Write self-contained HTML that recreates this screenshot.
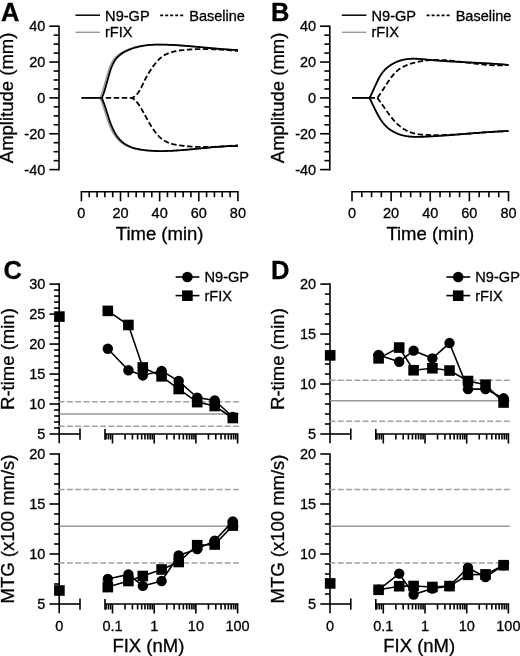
<!DOCTYPE html>
<html><head><meta charset="utf-8"><style>
html,body{margin:0;padding:0;background:#fff;}
body{width:520px;height:656px;overflow:hidden;}
svg{display:block;will-change:transform;}
text{font-family:"Liberation Sans", sans-serif;stroke:#000;stroke-width:0.3px;}
</style></head><body>
<svg width="520" height="656" viewBox="0 0 520 656">
<rect width="520" height="656" fill="#fff"/>
<g fill="#000" font-family='"Liberation Sans", sans-serif'>
<text x="1" y="20.9" font-size="25.5" text-anchor="start" font-weight="bold" >A</text>
<line x1="59" y1="25.4" x2="59" y2="170.4" stroke="#000" stroke-width="1.6" />
<line x1="49.3" y1="169.6" x2="59" y2="169.6" stroke="#000" stroke-width="1.6" />
<text x="45.3" y="174.6" font-size="14.5" text-anchor="end" font-weight="normal" >-40</text>
<line x1="53.6" y1="160.64" x2="59" y2="160.64" stroke="#000" stroke-width="1.6" />
<line x1="53.6" y1="151.68" x2="59" y2="151.68" stroke="#000" stroke-width="1.6" />
<line x1="53.6" y1="142.71" x2="59" y2="142.71" stroke="#000" stroke-width="1.6" />
<line x1="49.3" y1="133.75" x2="59" y2="133.75" stroke="#000" stroke-width="1.6" />
<text x="45.3" y="138.75" font-size="14.5" text-anchor="end" font-weight="normal" >-20</text>
<line x1="53.6" y1="124.79" x2="59" y2="124.79" stroke="#000" stroke-width="1.6" />
<line x1="53.6" y1="115.83" x2="59" y2="115.83" stroke="#000" stroke-width="1.6" />
<line x1="53.6" y1="106.86" x2="59" y2="106.86" stroke="#000" stroke-width="1.6" />
<line x1="49.3" y1="97.9" x2="59" y2="97.9" stroke="#000" stroke-width="1.6" />
<text x="45.3" y="102.9" font-size="14.5" text-anchor="end" font-weight="normal" >0</text>
<line x1="53.6" y1="88.94" x2="59" y2="88.94" stroke="#000" stroke-width="1.6" />
<line x1="53.6" y1="79.98" x2="59" y2="79.98" stroke="#000" stroke-width="1.6" />
<line x1="53.6" y1="71.01" x2="59" y2="71.01" stroke="#000" stroke-width="1.6" />
<line x1="49.3" y1="62.05" x2="59" y2="62.05" stroke="#000" stroke-width="1.6" />
<text x="45.3" y="67.05" font-size="14.5" text-anchor="end" font-weight="normal" >20</text>
<line x1="53.6" y1="53.09" x2="59" y2="53.09" stroke="#000" stroke-width="1.6" />
<line x1="53.6" y1="44.13" x2="59" y2="44.13" stroke="#000" stroke-width="1.6" />
<line x1="53.6" y1="35.16" x2="59" y2="35.16" stroke="#000" stroke-width="1.6" />
<line x1="49.3" y1="26.2" x2="59" y2="26.2" stroke="#000" stroke-width="1.6" />
<text x="45.3" y="31.2" font-size="14.5" text-anchor="end" font-weight="normal" >40</text>
<text transform="translate(13.4,97.9) rotate(-90)" font-size="18.5" text-anchor="middle">Amplitude (mm)</text>
<line x1="80.6" y1="191.8" x2="238.7" y2="191.8" stroke="#000" stroke-width="1.6" />
<line x1="81.4" y1="191.8" x2="81.4" y2="201.3" stroke="#000" stroke-width="1.6" />
<text x="81.4" y="218.3" font-size="14.5" text-anchor="middle" font-weight="normal" >0</text>
<line x1="89.23" y1="191.8" x2="89.23" y2="197.2" stroke="#000" stroke-width="1.6" />
<line x1="97.05" y1="191.8" x2="97.05" y2="197.2" stroke="#000" stroke-width="1.6" />
<line x1="104.88" y1="191.8" x2="104.88" y2="197.2" stroke="#000" stroke-width="1.6" />
<line x1="112.7" y1="191.8" x2="112.7" y2="197.2" stroke="#000" stroke-width="1.6" />
<line x1="120.53" y1="191.8" x2="120.53" y2="201.3" stroke="#000" stroke-width="1.6" />
<text x="120.53" y="218.3" font-size="14.5" text-anchor="middle" font-weight="normal" >20</text>
<line x1="128.35" y1="191.8" x2="128.35" y2="197.2" stroke="#000" stroke-width="1.6" />
<line x1="136.18" y1="191.8" x2="136.18" y2="197.2" stroke="#000" stroke-width="1.6" />
<line x1="144" y1="191.8" x2="144" y2="197.2" stroke="#000" stroke-width="1.6" />
<line x1="151.82" y1="191.8" x2="151.82" y2="197.2" stroke="#000" stroke-width="1.6" />
<line x1="159.65" y1="191.8" x2="159.65" y2="201.3" stroke="#000" stroke-width="1.6" />
<text x="159.65" y="218.3" font-size="14.5" text-anchor="middle" font-weight="normal" >40</text>
<line x1="167.48" y1="191.8" x2="167.48" y2="197.2" stroke="#000" stroke-width="1.6" />
<line x1="175.3" y1="191.8" x2="175.3" y2="197.2" stroke="#000" stroke-width="1.6" />
<line x1="183.12" y1="191.8" x2="183.12" y2="197.2" stroke="#000" stroke-width="1.6" />
<line x1="190.95" y1="191.8" x2="190.95" y2="197.2" stroke="#000" stroke-width="1.6" />
<line x1="198.78" y1="191.8" x2="198.78" y2="201.3" stroke="#000" stroke-width="1.6" />
<text x="198.78" y="218.3" font-size="14.5" text-anchor="middle" font-weight="normal" >60</text>
<line x1="206.6" y1="191.8" x2="206.6" y2="197.2" stroke="#000" stroke-width="1.6" />
<line x1="214.43" y1="191.8" x2="214.43" y2="197.2" stroke="#000" stroke-width="1.6" />
<line x1="222.25" y1="191.8" x2="222.25" y2="197.2" stroke="#000" stroke-width="1.6" />
<line x1="230.08" y1="191.8" x2="230.08" y2="197.2" stroke="#000" stroke-width="1.6" />
<line x1="237.9" y1="191.8" x2="237.9" y2="201.3" stroke="#000" stroke-width="1.6" />
<text x="237.9" y="218.3" font-size="14.5" text-anchor="middle" font-weight="normal" >80</text>
<text x="159.65" y="239.8" font-size="18.5" text-anchor="middle" font-weight="normal" >Time (min)</text>
<line x1="75.4" y1="15.2" x2="100" y2="15.2" stroke="#000" stroke-width="1.5" />
<text x="105.1" y="20.9" font-size="14.6" text-anchor="start" font-weight="normal" >N9-GP</text>
<line x1="75.4" y1="32.3" x2="100" y2="32.3" stroke="#999" stroke-width="1.4" />
<text x="105" y="37.4" font-size="14.6" text-anchor="start" font-weight="normal" >rFIX</text>
<line x1="160.2" y1="15.4" x2="183.3" y2="15.4" stroke="#000" stroke-width="1.6" stroke-dasharray="3 2"/>
<text x="189.3" y="21.1" font-size="14.5" text-anchor="start" font-weight="normal" >Baseline</text>
<path d="M81.4,97.9 L99.9,97.9 L99.97,97.78 L100.09,97.55 L100.25,97.24 L100.44,96.86 L100.66,96.39 L100.9,95.84 L101.16,95.21 L101.44,94.49 L101.73,93.69 L102.05,92.79 L102.38,91.8 L102.72,90.73 L103.08,89.56 L103.46,88.31 L103.85,86.98 L104.25,85.57 L104.66,84.09 L105.09,82.55 L105.53,80.95 L105.98,79.32 L106.44,77.65 L106.91,75.97 L107.39,74.29 L107.89,72.63 L108.39,71 L108.91,69.43 L109.43,67.95 L109.97,66.55 L110.51,65.24 L111.06,64.02 L111.63,62.89 L112.2,61.85 L112.78,60.88 L113.37,59.99 L113.97,59.17 L114.57,58.42 L115.19,57.73 L115.81,57.08 L116.45,56.47 L117.09,55.9 L117.73,55.35 L118.39,54.82 L119.06,54.31 L119.73,53.82 L120.41,53.35 L121.09,52.9 L121.79,52.47 L122.49,52.06 L123.2,51.67 L123.92,51.3 L124.64,50.94 L125.37,50.59 L126.11,50.26 L126.86,49.94 L127.61,49.63 L128.37,49.33 L129.13,49.04 L129.91,48.76 L130.69,48.49 L131.47,48.23 L132.27,47.97 L133.06,47.73 L133.87,47.49 L134.68,47.27 L135.5,47.05 L136.32,46.84 L137.16,46.65 L137.99,46.46 L138.84,46.28 L139.69,46.11 L140.54,45.95 L141.4,45.8 L142.27,45.66 L143.14,45.53 L144.02,45.41 L144.91,45.3 L145.8,45.2 L146.7,45.1 L147.6,45.01 L148.51,44.94 L149.42,44.87 L150.34,44.81 L151.27,44.75 L152.2,44.71 L153.14,44.67 L154.08,44.64 L155.03,44.62 L155.98,44.6 L156.94,44.59 L157.9,44.59 L158.87,44.59 L159.85,44.6 L160.83,44.61 L161.81,44.63 L162.8,44.65 L163.8,44.68 L164.8,44.71 L165.81,44.74 L166.82,44.78 L167.83,44.82 L168.89,44.87 L169.98,44.92 L171.08,44.97 L172.17,45.02 L173.28,45.08 L174.39,45.14 L175.5,45.2 L176.62,45.27 L177.75,45.34 L178.88,45.41 L180.01,45.49 L181.15,45.57 L182.3,45.65 L183.45,45.73 L184.61,45.82 L185.77,45.9 L186.93,46 L188.1,46.09 L189.28,46.18 L190.46,46.28 L191.65,46.38 L192.84,46.48 L194.03,46.58 L195.23,46.68 L196.44,46.79 L197.65,46.89 L198.86,47 L200.08,47.1 L201.23,47.21 L202.39,47.32 L203.56,47.43 L204.72,47.54 L205.9,47.65 L207.08,47.76 L208.26,47.87 L209.44,47.98 L210.63,48.09 L211.83,48.2 L213.03,48.31 L214.23,48.42 L215.44,48.52 L216.65,48.63 L217.87,48.73 L219.09,48.83 L220.31,48.93 L221.54,49.03 L222.78,49.13 L224.01,49.22 L225.26,49.31 L226.5,49.4 L227.75,49.49 L229.01,49.57 L230.26,49.65 L231.53,49.72 L232.79,49.79 L234.06,49.86 L235.34,49.92 L236.62,49.98 L237.9,50.03" fill="none" stroke="#999" stroke-width="1.5"/>
<path d="M99.9,97.9 L99.97,98.04 L100.09,98.31 L100.25,98.66 L100.44,99.09 L100.66,99.59 L100.9,100.16 L101.16,100.8 L101.44,101.5 L101.73,102.28 L102.05,103.12 L102.38,104.03 L102.72,105 L103.08,106.04 L103.46,107.15 L103.85,108.33 L104.25,109.57 L104.66,110.87 L105.09,112.22 L105.53,113.62 L105.98,115.05 L106.44,116.52 L106.91,117.99 L107.39,119.47 L107.89,120.94 L108.39,122.37 L108.91,123.77 L109.43,125.12 L109.97,126.43 L110.51,127.69 L111.06,128.9 L111.63,130.07 L112.2,131.19 L112.78,132.27 L113.37,133.29 L113.97,134.27 L114.57,135.21 L115.19,136.11 L115.81,136.96 L116.45,137.78 L117.09,138.55 L117.73,139.29 L118.39,139.99 L119.06,140.66 L119.73,141.28 L120.41,141.88 L121.09,142.44 L121.79,142.97 L122.49,143.47 L123.2,143.94 L123.92,144.39 L124.64,144.82 L125.37,145.23 L126.11,145.62 L126.86,145.99 L127.61,146.34 L128.37,146.67 L129.13,146.99 L129.91,147.28 L130.69,147.56 L131.47,147.82 L132.27,148.07 L133.06,148.3 L133.87,148.52 L134.68,148.72 L135.5,148.91 L136.32,149.09 L137.16,149.25 L137.99,149.41 L138.84,149.56 L139.69,149.7 L140.54,149.83 L141.4,149.95 L142.27,150.07 L143.14,150.18 L144.02,150.29 L144.91,150.38 L145.8,150.47 L146.7,150.55 L147.6,150.63 L148.51,150.7 L149.42,150.76 L150.34,150.82 L151.27,150.87 L152.2,150.91 L153.14,150.95 L154.08,150.98 L155.03,151.01 L155.98,151.03 L156.94,151.04 L157.9,151.05 L158.87,151.06 L159.85,151.06 L160.83,151.05 L161.81,151.04 L162.8,151.03 L163.8,151.01 L164.8,150.99 L165.81,150.96 L166.82,150.92 L167.83,150.89 L168.89,150.84 L169.98,150.8 L171.08,150.75 L172.17,150.69 L173.28,150.63 L174.39,150.57 L175.5,150.5 L176.62,150.43 L177.75,150.35 L178.88,150.28 L180.01,150.2 L181.15,150.11 L182.3,150.02 L183.45,149.93 L184.61,149.84 L185.77,149.74 L186.93,149.64 L188.1,149.54 L189.28,149.44 L190.46,149.34 L191.65,149.23 L192.84,149.12 L194.03,149.01 L195.23,148.9 L196.44,148.78 L197.65,148.67 L198.86,148.56 L200.08,148.44 L201.23,148.33 L202.39,148.21 L203.56,148.1 L204.72,147.98 L205.9,147.87 L207.08,147.75 L208.26,147.64 L209.44,147.53 L210.63,147.42 L211.83,147.32 L213.03,147.21 L214.23,147.11 L215.44,147.01 L216.65,146.91 L217.87,146.82 L219.09,146.73 L220.31,146.64 L221.54,146.56 L222.78,146.48 L224.01,146.4 L225.26,146.33 L226.5,146.27 L227.75,146.21 L229.01,146.16 L230.26,146.12 L231.53,146.08 L232.79,146.05 L234.06,146.02 L235.34,146 L236.62,146 L237.9,146" fill="none" stroke="#999" stroke-width="1.5"/>
<path d="M101.7,97.9 L131,97.9 L131.05,97.9 L131.15,97.89 L131.28,97.87 L131.43,97.86 L131.6,97.83 L131.78,97.79 L131.99,97.75 L132.21,97.69 L132.44,97.61 L132.69,97.53 L132.95,97.42 L133.22,97.3 L133.5,97.16 L133.79,96.99 L134.1,96.81 L134.41,96.6 L134.74,96.36 L135.07,96.09 L135.42,95.8 L135.77,95.47 L136.13,95.12 L136.5,94.72 L136.88,94.3 L137.27,93.83 L137.66,93.33 L138.07,92.79 L138.48,92.2 L138.9,91.57 L139.33,90.9 L139.76,90.18 L140.2,89.41 L140.65,88.59 L141.11,87.72 L141.57,86.82 L142.04,85.88 L142.52,84.9 L143,83.9 L143.49,82.88 L143.99,81.85 L144.49,80.81 L145,79.77 L145.51,78.75 L146.03,77.74 L146.56,76.75 L147.1,75.78 L147.63,74.82 L148.18,73.88 L148.73,72.96 L149.29,72.06 L149.85,71.17 L150.42,70.29 L150.99,69.43 L151.57,68.58 L152.16,67.74 L152.75,66.92 L153.34,66.1 L153.95,65.29 L154.55,64.49 L155.16,63.69 L155.78,62.91 L156.4,62.15 L157.03,61.41 L157.66,60.7 L158.3,60.03 L158.94,59.38 L159.59,58.77 L160.24,58.19 L160.9,57.64 L161.56,57.12 L162.23,56.62 L162.9,56.16 L163.57,55.72 L164.26,55.3 L164.94,54.91 L165.63,54.55 L166.33,54.2 L167.03,53.88 L167.73,53.57 L168.44,53.28 L169.15,53.01 L169.87,52.75 L170.59,52.51 L171.32,52.28 L172.05,52.06 L172.78,51.86 L173.52,51.66 L174.27,51.48 L175.02,51.32 L175.77,51.16 L176.52,51.01 L177.29,50.87 L178.05,50.74 L178.82,50.62 L179.59,50.51 L180.37,50.4 L181.15,50.31 L181.94,50.21 L182.73,50.13 L183.52,50.04 L184.32,49.96 L185.12,49.89 L185.93,49.81 L186.74,49.74 L187.55,49.68 L188.37,49.61 L189.19,49.55 L190.01,49.5 L190.84,49.44 L191.68,49.4 L192.51,49.35 L193.35,49.31 L194.2,49.27 L195.05,49.23 L195.9,49.2 L196.75,49.17 L197.61,49.15 L198.48,49.12 L199.34,49.11 L200.22,49.09 L201.09,49.08 L201.97,49.07 L202.85,49.07 L203.73,49.07 L204.62,49.07 L205.52,49.07 L206.41,49.08 L207.31,49.09 L208.21,49.11 L209.12,49.13 L210.03,49.15 L210.94,49.17 L211.86,49.2 L212.78,49.23 L213.71,49.27 L214.63,49.3 L215.56,49.34 L216.5,49.39 L217.44,49.43 L218.38,49.48 L219.32,49.53 L220.27,49.59 L221.22,49.65 L222.18,49.71 L223.14,49.77 L224.1,49.84 L225.06,49.91 L226.03,49.98 L227,50.05 L227.98,50.13 L228.95,50.2 L229.93,50.29 L230.92,50.37 L231.91,50.45 L232.9,50.54 L233.89,50.63 L234.89,50.72 L235.89,50.82 L236.89,50.91 L237.9,51.01" fill="none" stroke="#000" stroke-width="1.8" stroke-dasharray="5.4 2.6" stroke-dashoffset="3.9"/>
<path d="M131,97.9 L131.05,97.9 L131.15,97.92 L131.28,97.94 L131.43,97.97 L131.6,98.01 L131.78,98.06 L131.99,98.12 L132.21,98.2 L132.44,98.3 L132.69,98.41 L132.95,98.54 L133.22,98.7 L133.5,98.88 L133.79,99.08 L134.1,99.3 L134.41,99.56 L134.74,99.83 L135.07,100.14 L135.42,100.48 L135.77,100.84 L136.13,101.24 L136.5,101.66 L136.88,102.12 L137.27,102.61 L137.66,103.12 L138.07,103.67 L138.48,104.25 L138.9,104.86 L139.33,105.51 L139.76,106.18 L140.2,106.88 L140.65,107.61 L141.11,108.37 L141.57,109.15 L142.04,109.96 L142.52,110.8 L143,111.65 L143.49,112.53 L143.99,113.43 L144.49,114.34 L145,115.28 L145.51,116.22 L146.03,117.17 L146.56,118.14 L147.1,119.1 L147.63,120.07 L148.18,121.04 L148.73,122.01 L149.29,122.97 L149.85,123.93 L150.42,124.88 L150.99,125.82 L151.57,126.74 L152.16,127.66 L152.75,128.56 L153.34,129.44 L153.95,130.31 L154.55,131.15 L155.16,131.98 L155.78,132.78 L156.4,133.55 L157.03,134.3 L157.66,135.01 L158.3,135.7 L158.94,136.36 L159.59,136.99 L160.24,137.59 L160.9,138.16 L161.56,138.7 L162.23,139.22 L162.9,139.71 L163.57,140.17 L164.26,140.61 L164.94,141.02 L165.63,141.41 L166.33,141.77 L167.03,142.11 L167.73,142.43 L168.44,142.72 L169.15,143 L169.87,143.25 L170.59,143.49 L171.32,143.71 L172.05,143.91 L172.78,144.1 L173.52,144.27 L174.27,144.44 L175.02,144.59 L175.77,144.73 L176.52,144.86 L177.29,144.99 L178.05,145.11 L178.82,145.23 L179.59,145.34 L180.37,145.45 L181.15,145.56 L181.94,145.66 L182.73,145.76 L183.52,145.85 L184.32,145.94 L185.12,146.03 L185.93,146.11 L186.74,146.19 L187.55,146.27 L188.37,146.34 L189.19,146.41 L190.01,146.47 L190.84,146.53 L191.68,146.59 L192.51,146.64 L193.35,146.69 L194.2,146.74 L195.05,146.78 L195.9,146.82 L196.75,146.85 L197.61,146.88 L198.48,146.91 L199.34,146.93 L200.22,146.95 L201.09,146.97 L201.97,146.98 L202.85,146.99 L203.73,146.99 L204.62,146.99 L205.52,146.99 L206.41,146.99 L207.31,146.98 L208.21,146.97 L209.12,146.95 L210.03,146.93 L210.94,146.91 L211.86,146.89 L212.78,146.86 L213.71,146.83 L214.63,146.79 L215.56,146.76 L216.5,146.72 L217.44,146.68 L218.38,146.63 L219.32,146.59 L220.27,146.54 L221.22,146.48 L222.18,146.43 L223.14,146.37 L224.1,146.31 L225.06,146.25 L226.03,146.19 L227,146.12 L227.98,146.05 L228.95,145.99 L229.93,145.91 L230.92,145.84 L231.91,145.77 L232.9,145.69 L233.89,145.62 L234.89,145.54 L235.89,145.46 L236.89,145.38 L237.9,145.3" fill="none" stroke="#000" stroke-width="1.8" stroke-dasharray="5.4 2.6" stroke-dashoffset="1.2"/>
<path d="M81.4,97.9 L101.7,97.9 L101.77,97.78 L101.89,97.55 L102.05,97.24 L102.24,96.86 L102.46,96.39 L102.7,95.84 L102.96,95.21 L103.24,94.49 L103.53,93.69 L103.85,92.79 L104.18,91.8 L104.52,90.73 L104.88,89.56 L105.26,88.31 L105.65,86.98 L106.05,85.57 L106.46,84.09 L106.89,82.55 L107.33,80.95 L107.78,79.32 L108.24,77.65 L108.71,75.97 L109.19,74.29 L109.69,72.63 L110.19,71 L110.71,69.43 L111.23,67.95 L111.77,66.55 L112.31,65.24 L112.86,64.02 L113.43,62.89 L114,61.85 L114.58,60.88 L115.17,59.99 L115.77,59.17 L116.37,58.42 L116.99,57.73 L117.61,57.08 L118.25,56.47 L118.89,55.9 L119.53,55.35 L120.19,54.82 L120.86,54.31 L121.53,53.82 L122.21,53.35 L122.89,52.9 L123.59,52.47 L124.29,52.06 L125,51.67 L125.72,51.3 L126.44,50.94 L127.17,50.59 L127.91,50.26 L128.66,49.94 L129.41,49.63 L130.17,49.33 L130.93,49.04 L131.71,48.76 L132.49,48.49 L133.27,48.23 L134.07,47.97 L134.86,47.73 L135.67,47.49 L136.48,47.27 L137.3,47.05 L138.12,46.84 L138.96,46.65 L139.79,46.46 L140.64,46.28 L141.49,46.11 L142.34,45.95 L143.2,45.8 L144.07,45.66 L144.94,45.53 L145.82,45.41 L146.71,45.3 L147.6,45.2 L148.5,45.1 L149.4,45.01 L150.31,44.94 L151.22,44.87 L152.14,44.81 L153.07,44.75 L154,44.71 L154.94,44.67 L155.88,44.64 L156.83,44.62 L157.78,44.6 L158.74,44.59 L159.7,44.59 L160.67,44.59 L161.65,44.6 L162.63,44.61 L163.61,44.63 L164.6,44.65 L165.6,44.68 L166.6,44.71 L167.61,44.74 L168.62,44.78 L169.63,44.82 L170.65,44.87 L171.68,44.92 L172.71,44.97 L173.75,45.02 L174.79,45.08 L175.84,45.14 L176.89,45.2 L177.95,45.27 L179.01,45.34 L180.07,45.41 L181.14,45.49 L182.22,45.57 L183.3,45.65 L184.39,45.73 L185.48,45.82 L186.57,45.9 L187.67,46 L188.78,46.09 L189.89,46.18 L191,46.28 L192.12,46.38 L193.24,46.48 L194.37,46.58 L195.5,46.68 L196.64,46.79 L197.78,46.89 L198.93,47 L200.08,47.1 L201.23,47.21 L202.39,47.32 L203.56,47.43 L204.72,47.54 L205.9,47.65 L207.08,47.76 L208.26,47.87 L209.44,47.98 L210.63,48.09 L211.83,48.2 L213.03,48.31 L214.23,48.42 L215.44,48.52 L216.65,48.63 L217.87,48.73 L219.09,48.83 L220.31,48.93 L221.54,49.03 L222.78,49.13 L224.01,49.22 L225.26,49.31 L226.5,49.4 L227.75,49.49 L229.01,49.57 L230.26,49.65 L231.53,49.72 L232.79,49.79 L234.06,49.86 L235.34,49.92 L236.62,49.98 L237.9,50.03" fill="none" stroke="#000" stroke-width="1.8"/>
<path d="M101.7,97.9 L101.77,98.04 L101.89,98.31 L102.05,98.66 L102.24,99.09 L102.46,99.59 L102.7,100.16 L102.96,100.8 L103.24,101.5 L103.53,102.28 L103.85,103.12 L104.18,104.03 L104.52,105 L104.88,106.04 L105.26,107.15 L105.65,108.33 L106.05,109.57 L106.46,110.87 L106.89,112.22 L107.33,113.62 L107.78,115.05 L108.24,116.52 L108.71,117.99 L109.19,119.47 L109.69,120.94 L110.19,122.37 L110.71,123.77 L111.23,125.12 L111.77,126.43 L112.31,127.69 L112.86,128.9 L113.43,130.07 L114,131.19 L114.58,132.27 L115.17,133.29 L115.77,134.27 L116.37,135.21 L116.99,136.11 L117.61,136.96 L118.25,137.78 L118.89,138.55 L119.53,139.29 L120.19,139.99 L120.86,140.66 L121.53,141.28 L122.21,141.88 L122.89,142.44 L123.59,142.97 L124.29,143.47 L125,143.94 L125.72,144.39 L126.44,144.82 L127.17,145.23 L127.91,145.62 L128.66,145.99 L129.41,146.34 L130.17,146.67 L130.93,146.99 L131.71,147.28 L132.49,147.56 L133.27,147.82 L134.07,148.07 L134.86,148.3 L135.67,148.52 L136.48,148.72 L137.3,148.91 L138.12,149.09 L138.96,149.25 L139.79,149.41 L140.64,149.56 L141.49,149.7 L142.34,149.83 L143.2,149.95 L144.07,150.07 L144.94,150.18 L145.82,150.29 L146.71,150.38 L147.6,150.47 L148.5,150.55 L149.4,150.63 L150.31,150.7 L151.22,150.76 L152.14,150.82 L153.07,150.87 L154,150.91 L154.94,150.95 L155.88,150.98 L156.83,151.01 L157.78,151.03 L158.74,151.04 L159.7,151.05 L160.67,151.06 L161.65,151.06 L162.63,151.05 L163.61,151.04 L164.6,151.03 L165.6,151.01 L166.6,150.99 L167.61,150.96 L168.62,150.92 L169.63,150.89 L170.65,150.84 L171.68,150.8 L172.71,150.75 L173.75,150.69 L174.79,150.63 L175.84,150.57 L176.89,150.5 L177.95,150.43 L179.01,150.35 L180.07,150.28 L181.14,150.2 L182.22,150.11 L183.3,150.02 L184.39,149.93 L185.48,149.84 L186.57,149.74 L187.67,149.64 L188.78,149.54 L189.89,149.44 L191,149.34 L192.12,149.23 L193.24,149.12 L194.37,149.01 L195.5,148.9 L196.64,148.78 L197.78,148.67 L198.93,148.56 L200.08,148.44 L201.23,148.33 L202.39,148.21 L203.56,148.1 L204.72,147.98 L205.9,147.87 L207.08,147.75 L208.26,147.64 L209.44,147.53 L210.63,147.42 L211.83,147.32 L213.03,147.21 L214.23,147.11 L215.44,147.01 L216.65,146.91 L217.87,146.82 L219.09,146.73 L220.31,146.64 L221.54,146.56 L222.78,146.48 L224.01,146.4 L225.26,146.33 L226.5,146.27 L227.75,146.21 L229.01,146.16 L230.26,146.12 L231.53,146.08 L232.79,146.05 L234.06,146.02 L235.34,146 L236.62,146 L237.9,146" fill="none" stroke="#000" stroke-width="1.8"/>
<text x="270.9" y="20.9" font-size="25.5" text-anchor="start" font-weight="bold" >B</text>
<line x1="329.8" y1="25.4" x2="329.8" y2="170.4" stroke="#000" stroke-width="1.6" />
<line x1="320.1" y1="169.6" x2="329.8" y2="169.6" stroke="#000" stroke-width="1.6" />
<text x="316.1" y="174.6" font-size="14.5" text-anchor="end" font-weight="normal" >-40</text>
<line x1="324.4" y1="160.64" x2="329.8" y2="160.64" stroke="#000" stroke-width="1.6" />
<line x1="324.4" y1="151.68" x2="329.8" y2="151.68" stroke="#000" stroke-width="1.6" />
<line x1="324.4" y1="142.71" x2="329.8" y2="142.71" stroke="#000" stroke-width="1.6" />
<line x1="320.1" y1="133.75" x2="329.8" y2="133.75" stroke="#000" stroke-width="1.6" />
<text x="316.1" y="138.75" font-size="14.5" text-anchor="end" font-weight="normal" >-20</text>
<line x1="324.4" y1="124.79" x2="329.8" y2="124.79" stroke="#000" stroke-width="1.6" />
<line x1="324.4" y1="115.83" x2="329.8" y2="115.83" stroke="#000" stroke-width="1.6" />
<line x1="324.4" y1="106.86" x2="329.8" y2="106.86" stroke="#000" stroke-width="1.6" />
<line x1="320.1" y1="97.9" x2="329.8" y2="97.9" stroke="#000" stroke-width="1.6" />
<text x="316.1" y="102.9" font-size="14.5" text-anchor="end" font-weight="normal" >0</text>
<line x1="324.4" y1="88.94" x2="329.8" y2="88.94" stroke="#000" stroke-width="1.6" />
<line x1="324.4" y1="79.98" x2="329.8" y2="79.98" stroke="#000" stroke-width="1.6" />
<line x1="324.4" y1="71.01" x2="329.8" y2="71.01" stroke="#000" stroke-width="1.6" />
<line x1="320.1" y1="62.05" x2="329.8" y2="62.05" stroke="#000" stroke-width="1.6" />
<text x="316.1" y="67.05" font-size="14.5" text-anchor="end" font-weight="normal" >20</text>
<line x1="324.4" y1="53.09" x2="329.8" y2="53.09" stroke="#000" stroke-width="1.6" />
<line x1="324.4" y1="44.13" x2="329.8" y2="44.13" stroke="#000" stroke-width="1.6" />
<line x1="324.4" y1="35.16" x2="329.8" y2="35.16" stroke="#000" stroke-width="1.6" />
<line x1="320.1" y1="26.2" x2="329.8" y2="26.2" stroke="#000" stroke-width="1.6" />
<text x="316.1" y="31.2" font-size="14.5" text-anchor="end" font-weight="normal" >40</text>
<text transform="translate(284.2,97.9) rotate(-90)" font-size="18.5" text-anchor="middle">Amplitude (mm)</text>
<line x1="351.2" y1="191.8" x2="509.3" y2="191.8" stroke="#000" stroke-width="1.6" />
<line x1="352" y1="191.8" x2="352" y2="201.3" stroke="#000" stroke-width="1.6" />
<text x="352" y="218.3" font-size="14.5" text-anchor="middle" font-weight="normal" >0</text>
<line x1="361.78" y1="191.8" x2="361.78" y2="197.2" stroke="#000" stroke-width="1.6" />
<line x1="371.56" y1="191.8" x2="371.56" y2="197.2" stroke="#000" stroke-width="1.6" />
<line x1="381.34" y1="191.8" x2="381.34" y2="197.2" stroke="#000" stroke-width="1.6" />
<line x1="391.12" y1="191.8" x2="391.12" y2="201.3" stroke="#000" stroke-width="1.6" />
<text x="391.12" y="218.3" font-size="14.5" text-anchor="middle" font-weight="normal" >20</text>
<line x1="400.91" y1="191.8" x2="400.91" y2="197.2" stroke="#000" stroke-width="1.6" />
<line x1="410.69" y1="191.8" x2="410.69" y2="197.2" stroke="#000" stroke-width="1.6" />
<line x1="420.47" y1="191.8" x2="420.47" y2="197.2" stroke="#000" stroke-width="1.6" />
<line x1="430.25" y1="191.8" x2="430.25" y2="201.3" stroke="#000" stroke-width="1.6" />
<text x="430.25" y="218.3" font-size="14.5" text-anchor="middle" font-weight="normal" >40</text>
<line x1="440.03" y1="191.8" x2="440.03" y2="197.2" stroke="#000" stroke-width="1.6" />
<line x1="449.81" y1="191.8" x2="449.81" y2="197.2" stroke="#000" stroke-width="1.6" />
<line x1="459.59" y1="191.8" x2="459.59" y2="197.2" stroke="#000" stroke-width="1.6" />
<line x1="469.38" y1="191.8" x2="469.38" y2="201.3" stroke="#000" stroke-width="1.6" />
<text x="469.38" y="218.3" font-size="14.5" text-anchor="middle" font-weight="normal" >60</text>
<line x1="479.16" y1="191.8" x2="479.16" y2="197.2" stroke="#000" stroke-width="1.6" />
<line x1="488.94" y1="191.8" x2="488.94" y2="197.2" stroke="#000" stroke-width="1.6" />
<line x1="498.72" y1="191.8" x2="498.72" y2="197.2" stroke="#000" stroke-width="1.6" />
<line x1="508.5" y1="191.8" x2="508.5" y2="201.3" stroke="#000" stroke-width="1.6" />
<text x="508.5" y="218.3" font-size="14.5" text-anchor="middle" font-weight="normal" >80</text>
<text x="430.25" y="239.8" font-size="18.5" text-anchor="middle" font-weight="normal" >Time (min)</text>
<line x1="341.8" y1="15.2" x2="366.4" y2="15.2" stroke="#000" stroke-width="1.5" />
<text x="371.5" y="20.9" font-size="14.6" text-anchor="start" font-weight="normal" >N9-GP</text>
<line x1="341.8" y1="32.3" x2="366.4" y2="32.3" stroke="#999" stroke-width="1.4" />
<text x="371.4" y="37.4" font-size="14.6" text-anchor="start" font-weight="normal" >rFIX</text>
<line x1="426.6" y1="15.4" x2="449.7" y2="15.4" stroke="#000" stroke-width="1.6" stroke-dasharray="3 2"/>
<text x="455.7" y="21.1" font-size="14.5" text-anchor="start" font-weight="normal" >Baseline</text>
<path d="M352,97.9 L369.6,97.9 L369.67,97.76 L369.8,97.51 L369.96,97.19 L370.15,96.8 L370.37,96.35 L370.62,95.85 L370.88,95.3 L371.17,94.7 L371.47,94.06 L371.79,93.37 L372.13,92.64 L372.48,91.87 L372.85,91.07 L373.23,90.22 L373.62,89.35 L374.03,88.44 L374.46,87.5 L374.89,86.54 L375.34,85.56 L375.8,84.56 L376.27,83.55 L376.75,82.53 L377.24,81.5 L377.75,80.48 L378.26,79.46 L378.78,78.46 L379.32,77.48 L379.86,76.53 L380.42,75.61 L380.98,74.72 L381.56,73.87 L382.14,73.05 L382.73,72.27 L383.33,71.52 L383.95,70.8 L384.56,70.12 L385.19,69.47 L385.83,68.85 L386.47,68.26 L387.13,67.69 L387.79,67.15 L388.46,66.63 L389.13,66.14 L389.82,65.65 L390.51,65.19 L391.21,64.73 L391.92,64.3 L392.64,63.88 L393.36,63.47 L394.09,63.08 L394.83,62.71 L395.58,62.36 L396.33,62.02 L397.09,61.69 L397.86,61.39 L398.63,61.1 L399.41,60.83 L400.2,60.58 L401,60.34 L401.8,60.12 L402.61,59.92 L403.42,59.73 L404.24,59.56 L405.07,59.41 L405.91,59.27 L406.75,59.15 L407.59,59.05 L408.45,58.96 L409.31,58.88 L410.17,58.82 L411.05,58.77 L411.93,58.74 L412.81,58.72 L413.7,58.71 L414.6,58.72 L415.5,58.74 L416.41,58.76 L417.33,58.8 L418.25,58.85 L419.17,58.91 L420.1,58.97 L421.04,59.04 L421.99,59.12 L422.94,59.21 L423.89,59.29 L424.85,59.39 L425.82,59.48 L426.79,59.58 L427.77,59.68 L428.75,59.78 L429.74,59.87 L430.73,59.97 L431.73,60.06 L432.74,60.15 L433.75,60.24 L434.76,60.33 L435.79,60.42 L436.81,60.5 L437.84,60.58 L438.88,60.66 L439.92,60.74 L440.97,60.82 L442.02,60.9 L443.08,60.97 L444.14,61.04 L445.21,61.11 L446.28,61.19 L447.36,61.25 L448.44,61.32 L449.53,61.39 L450.62,61.45 L451.72,61.52 L452.82,61.58 L453.93,61.64 L455.04,61.71 L456.16,61.77 L457.28,61.83 L458.4,61.88 L459.53,61.94 L460.67,62 L461.81,62.06 L462.96,62.12 L464.11,62.17 L465.26,62.23 L466.42,62.29 L467.59,62.34 L468.75,62.4 L469.93,62.46 L471.11,62.51 L472.29,62.57 L473.48,62.63 L474.67,62.69 L475.86,62.75 L477.06,62.81 L478.27,62.87 L479.48,62.93 L480.69,62.99 L481.91,63.06 L483.13,63.12 L484.36,63.19 L485.59,63.26 L486.83,63.33 L488.07,63.4 L489.32,63.47 L490.56,63.55 L491.82,63.63 L493.08,63.71 L494.34,63.79 L495.6,63.88 L496.88,63.97 L498.15,64.06 L499.43,64.16 L500.71,64.26 L502,64.36 L503.29,64.46 L504.59,64.57 L505.89,64.69 L507.19,64.81 L508.5,64.93" fill="none" stroke="#999" stroke-width="1.5"/>
<path d="M369.6,97.9 L369.67,98.05 L369.8,98.32 L369.96,98.66 L370.15,99.08 L370.37,99.55 L370.62,100.07 L370.88,100.64 L371.17,101.24 L371.47,101.89 L371.79,102.57 L372.13,103.29 L372.48,104.04 L372.85,104.81 L373.23,105.61 L373.62,106.44 L374.03,107.29 L374.46,108.16 L374.89,109.05 L375.34,109.95 L375.8,110.87 L376.27,111.79 L376.75,112.72 L377.24,113.66 L377.75,114.59 L378.26,115.52 L378.78,116.45 L379.32,117.36 L379.86,118.27 L380.42,119.15 L380.98,120.01 L381.56,120.85 L382.14,121.66 L382.73,122.45 L383.33,123.21 L383.95,123.95 L384.56,124.66 L385.19,125.35 L385.83,126.01 L386.47,126.64 L387.13,127.25 L387.79,127.83 L388.46,128.38 L389.13,128.92 L389.82,129.42 L390.51,129.91 L391.21,130.37 L391.92,130.81 L392.64,131.24 L393.36,131.65 L394.09,132.04 L394.83,132.41 L395.58,132.77 L396.33,133.12 L397.09,133.45 L397.86,133.76 L398.63,134.06 L399.41,134.34 L400.2,134.6 L401,134.85 L401.8,135.08 L402.61,135.3 L403.42,135.5 L404.24,135.69 L405.07,135.86 L405.91,136.02 L406.75,136.16 L407.59,136.28 L408.45,136.4 L409.31,136.5 L410.17,136.58 L411.05,136.66 L411.93,136.72 L412.81,136.77 L413.7,136.81 L414.6,136.84 L415.5,136.86 L416.41,136.87 L417.33,136.87 L418.25,136.86 L419.17,136.85 L420.1,136.83 L421.04,136.8 L421.99,136.77 L422.94,136.74 L423.89,136.7 L424.85,136.67 L425.82,136.63 L426.79,136.58 L427.77,136.54 L428.75,136.49 L429.74,136.44 L430.73,136.39 L431.73,136.34 L432.74,136.28 L433.75,136.22 L434.76,136.16 L435.79,136.1 L436.81,136.04 L437.84,135.97 L438.88,135.91 L439.92,135.84 L440.97,135.77 L442.02,135.7 L443.08,135.62 L444.14,135.55 L445.21,135.47 L446.28,135.39 L447.36,135.31 L448.44,135.23 L449.53,135.15 L450.62,135.06 L451.72,134.98 L452.82,134.89 L453.93,134.8 L455.04,134.71 L456.16,134.62 L457.28,134.53 L458.4,134.44 L459.53,134.35 L460.67,134.25 L461.81,134.16 L462.96,134.07 L464.11,133.97 L465.26,133.88 L466.42,133.78 L467.59,133.69 L468.75,133.59 L469.93,133.49 L471.11,133.4 L472.29,133.3 L473.48,133.21 L474.67,133.11 L475.86,133.02 L477.06,132.92 L478.27,132.83 L479.48,132.74 L480.69,132.64 L481.91,132.55 L483.13,132.46 L484.36,132.38 L485.59,132.29 L486.83,132.2 L488.07,132.12 L489.32,132.03 L490.56,131.95 L491.82,131.87 L493.08,131.8 L494.34,131.72 L495.6,131.65 L496.88,131.58 L498.15,131.51 L499.43,131.45 L500.71,131.39 L502,131.33 L503.29,131.27 L504.59,131.22 L505.89,131.17 L507.19,131.12 L508.5,131.08" fill="none" stroke="#999" stroke-width="1.5"/>
<path d="M369.6,97.9 L377.3,97.9 L377.37,97.82 L377.49,97.66 L377.64,97.46 L377.82,97.22 L378.03,96.94 L378.26,96.63 L378.51,96.29 L378.78,95.92 L379.07,95.52 L379.37,95.09 L379.69,94.64 L380.02,94.15 L380.37,93.65 L380.73,93.12 L381.1,92.56 L381.49,91.98 L381.89,91.38 L382.3,90.75 L382.72,90.1 L383.15,89.43 L383.6,88.74 L384.05,88.04 L384.52,87.31 L384.99,86.57 L385.48,85.82 L385.98,85.05 L386.48,84.27 L387,83.48 L387.52,82.69 L388.05,81.88 L388.59,81.08 L389.15,80.27 L389.71,79.47 L390.27,78.67 L390.85,77.88 L391.43,77.09 L392.03,76.32 L392.63,75.57 L393.24,74.84 L393.85,74.13 L394.48,73.44 L395.11,72.78 L395.75,72.15 L396.4,71.54 L397.05,70.95 L397.72,70.39 L398.39,69.85 L399.06,69.34 L399.75,68.85 L400.44,68.38 L401.13,67.94 L401.84,67.52 L402.55,67.12 L403.27,66.73 L403.99,66.37 L404.72,66.03 L405.46,65.7 L406.21,65.38 L406.96,65.08 L407.71,64.79 L408.48,64.51 L409.25,64.24 L410.02,63.98 L410.8,63.72 L411.59,63.47 L412.39,63.23 L413.19,63 L413.99,62.78 L414.81,62.57 L415.63,62.36 L416.45,62.16 L417.28,61.97 L418.12,61.79 L418.96,61.62 L419.8,61.45 L420.66,61.3 L421.52,61.15 L422.38,61.01 L423.25,60.88 L424.12,60.76 L425.01,60.65 L425.89,60.55 L426.78,60.45 L427.68,60.37 L428.58,60.29 L429.49,60.22 L430.4,60.16 L431.32,60.11 L432.24,60.06 L433.17,60.03 L434.11,60 L435.05,59.98 L435.99,59.97 L436.94,59.97 L437.89,59.97 L438.85,59.98 L439.82,60 L440.79,60.03 L441.76,60.07 L442.74,60.11 L443.72,60.16 L444.71,60.21 L445.71,60.27 L446.7,60.34 L447.71,60.42 L448.72,60.5 L449.73,60.58 L450.75,60.68 L451.77,60.77 L452.8,60.87 L453.83,60.98 L454.86,61.09 L455.91,61.21 L456.95,61.33 L458,61.45 L459.06,61.58 L460.12,61.71 L461.18,61.85 L462.25,61.98 L463.32,62.12 L464.4,62.26 L465.48,62.4 L466.57,62.55 L467.66,62.69 L468.75,62.83 L469.85,62.98 L470.96,63.12 L472.07,63.27 L473.18,63.41 L474.3,63.55 L475.42,63.69 L476.54,63.83 L477.67,63.96 L478.81,64.09 L479.95,64.22 L481.09,64.34 L482.23,64.46 L483.39,64.58 L484.54,64.68 L485.7,64.79 L486.86,64.88 L488.03,64.97 L489.2,65.05 L490.38,65.12 L491.56,65.19 L492.74,65.24 L493.93,65.29 L495.12,65.32 L496.32,65.34 L497.52,65.35 L498.72,65.35 L499.93,65.34 L501.14,65.31 L502.36,65.27 L503.58,65.22 L504.8,65.14 L506.03,65.06 L507.26,64.95 L508.5,64.83" fill="none" stroke="#000" stroke-width="1.8" stroke-dasharray="5.4 2.6" stroke-dashoffset="0"/>
<path d="M377.3,97.9 L377.37,97.98 L377.49,98.13 L377.64,98.33 L377.82,98.56 L378.03,98.83 L378.26,99.13 L378.51,99.46 L378.78,99.82 L379.07,100.2 L379.37,100.6 L379.69,101.04 L380.02,101.49 L380.37,101.97 L380.73,102.47 L381.1,102.99 L381.49,103.54 L381.89,104.1 L382.3,104.69 L382.72,105.29 L383.15,105.92 L383.6,106.56 L384.05,107.21 L384.52,107.89 L384.99,108.57 L385.48,109.27 L385.98,109.99 L386.48,110.71 L387,111.44 L387.52,112.18 L388.05,112.93 L388.59,113.68 L389.15,114.44 L389.71,115.19 L390.27,115.95 L390.85,116.7 L391.43,117.44 L392.03,118.18 L392.63,118.91 L393.24,119.62 L393.85,120.33 L394.48,121.02 L395.11,121.71 L395.75,122.37 L396.4,123.03 L397.05,123.67 L397.72,124.29 L398.39,124.9 L399.06,125.5 L399.75,126.07 L400.44,126.63 L401.13,127.17 L401.84,127.7 L402.55,128.2 L403.27,128.69 L403.99,129.15 L404.72,129.6 L405.46,130.02 L406.21,130.43 L406.96,130.81 L407.71,131.18 L408.48,131.52 L409.25,131.85 L410.02,132.15 L410.8,132.44 L411.59,132.7 L412.39,132.95 L413.19,133.18 L413.99,133.39 L414.81,133.59 L415.63,133.76 L416.45,133.93 L417.28,134.07 L418.12,134.21 L418.96,134.33 L419.8,134.43 L420.66,134.53 L421.52,134.61 L422.38,134.68 L423.25,134.75 L424.12,134.8 L425.01,134.85 L425.89,134.89 L426.78,134.93 L427.68,134.97 L428.58,135 L429.49,135.03 L430.4,135.05 L431.32,135.07 L432.24,135.09 L433.17,135.1 L434.11,135.11 L435.05,135.12 L435.99,135.12 L436.94,135.12 L437.89,135.11 L438.85,135.11 L439.82,135.09 L440.79,135.08 L441.76,135.06 L442.74,135.04 L443.72,135.01 L444.71,134.98 L445.71,134.95 L446.7,134.92 L447.71,134.88 L448.72,134.84 L449.73,134.79 L450.75,134.75 L451.77,134.7 L452.8,134.65 L453.83,134.59 L454.86,134.53 L455.91,134.47 L456.95,134.41 L458,134.35 L459.06,134.28 L460.12,134.21 L461.18,134.14 L462.25,134.06 L463.32,133.99 L464.4,133.91 L465.48,133.83 L466.57,133.75 L467.66,133.67 L468.75,133.59 L469.85,133.51 L470.96,133.42 L472.07,133.33 L473.18,133.25 L474.3,133.16 L475.42,133.07 L476.54,132.99 L477.67,132.9 L478.81,132.81 L479.95,132.72 L481.09,132.63 L482.23,132.54 L483.39,132.46 L484.54,132.37 L485.7,132.29 L486.86,132.2 L488.03,132.12 L489.2,132.04 L490.38,131.96 L491.56,131.88 L492.74,131.8 L493.93,131.73 L495.12,131.66 L496.32,131.59 L497.52,131.52 L498.72,131.46 L499.93,131.4 L501.14,131.34 L502.36,131.29 L503.58,131.24 L504.8,131.19 L506.03,131.15 L507.26,131.11 L508.5,131.08" fill="none" stroke="#000" stroke-width="1.8" stroke-dasharray="5.4 2.6" stroke-dashoffset="0"/>
<path d="M352,97.9 L369.6,97.9 L369.67,97.76 L369.8,97.51 L369.96,97.19 L370.15,96.8 L370.37,96.35 L370.62,95.85 L370.88,95.3 L371.17,94.7 L371.47,94.06 L371.79,93.37 L372.13,92.64 L372.48,91.87 L372.85,91.07 L373.23,90.22 L373.62,89.35 L374.03,88.44 L374.46,87.5 L374.89,86.54 L375.34,85.56 L375.8,84.56 L376.27,83.55 L376.75,82.53 L377.24,81.5 L377.75,80.48 L378.26,79.46 L378.78,78.46 L379.32,77.48 L379.86,76.53 L380.42,75.61 L380.98,74.72 L381.56,73.87 L382.14,73.05 L382.73,72.27 L383.33,71.52 L383.95,70.8 L384.56,70.12 L385.19,69.47 L385.83,68.85 L386.47,68.26 L387.13,67.69 L387.79,67.15 L388.46,66.63 L389.13,66.14 L389.82,65.65 L390.51,65.19 L391.21,64.73 L391.92,64.3 L392.64,63.88 L393.36,63.47 L394.09,63.08 L394.83,62.71 L395.58,62.36 L396.33,62.02 L397.09,61.69 L397.86,61.39 L398.63,61.1 L399.41,60.83 L400.2,60.58 L401,60.34 L401.8,60.12 L402.61,59.92 L403.42,59.73 L404.24,59.56 L405.07,59.41 L405.91,59.27 L406.75,59.15 L407.59,59.05 L408.45,58.96 L409.31,58.88 L410.17,58.82 L411.05,58.77 L411.93,58.74 L412.81,58.72 L413.7,58.71 L414.6,58.72 L415.5,58.74 L416.41,58.76 L417.33,58.8 L418.25,58.85 L419.17,58.91 L420.1,58.97 L421.04,59.04 L421.99,59.12 L422.94,59.21 L423.89,59.29 L424.85,59.39 L425.82,59.48 L426.79,59.58 L427.77,59.68 L428.75,59.78 L429.74,59.87 L430.73,59.97 L431.73,60.06 L432.74,60.15 L433.75,60.24 L434.76,60.33 L435.79,60.42 L436.81,60.5 L437.84,60.58 L438.88,60.66 L439.92,60.74 L440.97,60.82 L442.02,60.9 L443.08,60.97 L444.14,61.04 L445.21,61.11 L446.28,61.19 L447.36,61.25 L448.44,61.32 L449.53,61.39 L450.62,61.45 L451.72,61.52 L452.82,61.58 L453.93,61.64 L455.04,61.71 L456.16,61.77 L457.28,61.83 L458.4,61.88 L459.53,61.94 L460.67,62 L461.81,62.06 L462.96,62.12 L464.11,62.17 L465.26,62.23 L466.42,62.29 L467.59,62.34 L468.75,62.4 L469.93,62.46 L471.11,62.51 L472.29,62.57 L473.48,62.63 L474.67,62.69 L475.86,62.75 L477.06,62.81 L478.27,62.87 L479.48,62.93 L480.69,62.99 L481.91,63.06 L483.13,63.12 L484.36,63.19 L485.59,63.26 L486.83,63.33 L488.07,63.4 L489.32,63.47 L490.56,63.55 L491.82,63.63 L493.08,63.71 L494.34,63.79 L495.6,63.88 L496.88,63.97 L498.15,64.06 L499.43,64.16 L500.71,64.26 L502,64.36 L503.29,64.46 L504.59,64.57 L505.89,64.69 L507.19,64.81 L508.5,64.93" fill="none" stroke="#000" stroke-width="1.8"/>
<path d="M369.6,97.9 L369.67,98.05 L369.8,98.32 L369.96,98.66 L370.15,99.08 L370.37,99.55 L370.62,100.07 L370.88,100.64 L371.17,101.24 L371.47,101.89 L371.79,102.57 L372.13,103.29 L372.48,104.04 L372.85,104.81 L373.23,105.61 L373.62,106.44 L374.03,107.29 L374.46,108.16 L374.89,109.05 L375.34,109.95 L375.8,110.87 L376.27,111.79 L376.75,112.72 L377.24,113.66 L377.75,114.59 L378.26,115.52 L378.78,116.45 L379.32,117.36 L379.86,118.27 L380.42,119.15 L380.98,120.01 L381.56,120.85 L382.14,121.66 L382.73,122.45 L383.33,123.21 L383.95,123.95 L384.56,124.66 L385.19,125.35 L385.83,126.01 L386.47,126.64 L387.13,127.25 L387.79,127.83 L388.46,128.38 L389.13,128.92 L389.82,129.42 L390.51,129.91 L391.21,130.37 L391.92,130.81 L392.64,131.24 L393.36,131.65 L394.09,132.04 L394.83,132.41 L395.58,132.77 L396.33,133.12 L397.09,133.45 L397.86,133.76 L398.63,134.06 L399.41,134.34 L400.2,134.6 L401,134.85 L401.8,135.08 L402.61,135.3 L403.42,135.5 L404.24,135.69 L405.07,135.86 L405.91,136.02 L406.75,136.16 L407.59,136.28 L408.45,136.4 L409.31,136.5 L410.17,136.58 L411.05,136.66 L411.93,136.72 L412.81,136.77 L413.7,136.81 L414.6,136.84 L415.5,136.86 L416.41,136.87 L417.33,136.87 L418.25,136.86 L419.17,136.85 L420.1,136.83 L421.04,136.8 L421.99,136.77 L422.94,136.74 L423.89,136.7 L424.85,136.67 L425.82,136.63 L426.79,136.58 L427.77,136.54 L428.75,136.49 L429.74,136.44 L430.73,136.39 L431.73,136.34 L432.74,136.28 L433.75,136.22 L434.76,136.16 L435.79,136.1 L436.81,136.04 L437.84,135.97 L438.88,135.91 L439.92,135.84 L440.97,135.77 L442.02,135.7 L443.08,135.62 L444.14,135.55 L445.21,135.47 L446.28,135.39 L447.36,135.31 L448.44,135.23 L449.53,135.15 L450.62,135.06 L451.72,134.98 L452.82,134.89 L453.93,134.8 L455.04,134.71 L456.16,134.62 L457.28,134.53 L458.4,134.44 L459.53,134.35 L460.67,134.25 L461.81,134.16 L462.96,134.07 L464.11,133.97 L465.26,133.88 L466.42,133.78 L467.59,133.69 L468.75,133.59 L469.93,133.49 L471.11,133.4 L472.29,133.3 L473.48,133.21 L474.67,133.11 L475.86,133.02 L477.06,132.92 L478.27,132.83 L479.48,132.74 L480.69,132.64 L481.91,132.55 L483.13,132.46 L484.36,132.38 L485.59,132.29 L486.83,132.2 L488.07,132.12 L489.32,132.03 L490.56,131.95 L491.82,131.87 L493.08,131.8 L494.34,131.72 L495.6,131.65 L496.88,131.58 L498.15,131.51 L499.43,131.45 L500.71,131.39 L502,131.33 L503.29,131.27 L504.59,131.22 L505.89,131.17 L507.19,131.12 L508.5,131.08" fill="none" stroke="#000" stroke-width="1.8"/>
<text x="3.6" y="278.8" font-size="25.5" text-anchor="start" font-weight="bold" >C</text>
<line x1="59.2" y1="283.3" x2="59.2" y2="434" stroke="#000" stroke-width="1.6" />
<line x1="49.5" y1="434" x2="59.2" y2="434" stroke="#000" stroke-width="1.6" />
<text x="45.3" y="439" font-size="14.5" text-anchor="end" font-weight="normal" >5</text>
<line x1="54.1" y1="428" x2="59.2" y2="428" stroke="#000" stroke-width="1.6" />
<line x1="54.1" y1="422.01" x2="59.2" y2="422.01" stroke="#000" stroke-width="1.6" />
<line x1="54.1" y1="416.01" x2="59.2" y2="416.01" stroke="#000" stroke-width="1.6" />
<line x1="54.1" y1="410.02" x2="59.2" y2="410.02" stroke="#000" stroke-width="1.6" />
<line x1="49.5" y1="404.02" x2="59.2" y2="404.02" stroke="#000" stroke-width="1.6" />
<text x="45.3" y="409.02" font-size="14.5" text-anchor="end" font-weight="normal" >10</text>
<line x1="54.1" y1="398.02" x2="59.2" y2="398.02" stroke="#000" stroke-width="1.6" />
<line x1="54.1" y1="392.03" x2="59.2" y2="392.03" stroke="#000" stroke-width="1.6" />
<line x1="54.1" y1="386.03" x2="59.2" y2="386.03" stroke="#000" stroke-width="1.6" />
<line x1="54.1" y1="380.04" x2="59.2" y2="380.04" stroke="#000" stroke-width="1.6" />
<line x1="49.5" y1="374.04" x2="59.2" y2="374.04" stroke="#000" stroke-width="1.6" />
<text x="45.3" y="379.04" font-size="14.5" text-anchor="end" font-weight="normal" >15</text>
<line x1="54.1" y1="368.04" x2="59.2" y2="368.04" stroke="#000" stroke-width="1.6" />
<line x1="54.1" y1="362.05" x2="59.2" y2="362.05" stroke="#000" stroke-width="1.6" />
<line x1="54.1" y1="356.05" x2="59.2" y2="356.05" stroke="#000" stroke-width="1.6" />
<line x1="54.1" y1="350.06" x2="59.2" y2="350.06" stroke="#000" stroke-width="1.6" />
<line x1="49.5" y1="344.06" x2="59.2" y2="344.06" stroke="#000" stroke-width="1.6" />
<text x="45.3" y="349.06" font-size="14.5" text-anchor="end" font-weight="normal" >20</text>
<line x1="54.1" y1="338.06" x2="59.2" y2="338.06" stroke="#000" stroke-width="1.6" />
<line x1="54.1" y1="332.07" x2="59.2" y2="332.07" stroke="#000" stroke-width="1.6" />
<line x1="54.1" y1="326.07" x2="59.2" y2="326.07" stroke="#000" stroke-width="1.6" />
<line x1="54.1" y1="320.08" x2="59.2" y2="320.08" stroke="#000" stroke-width="1.6" />
<line x1="49.5" y1="314.08" x2="59.2" y2="314.08" stroke="#000" stroke-width="1.6" />
<text x="45.3" y="319.08" font-size="14.5" text-anchor="end" font-weight="normal" >25</text>
<line x1="54.1" y1="308.08" x2="59.2" y2="308.08" stroke="#000" stroke-width="1.6" />
<line x1="54.1" y1="302.09" x2="59.2" y2="302.09" stroke="#000" stroke-width="1.6" />
<line x1="54.1" y1="296.09" x2="59.2" y2="296.09" stroke="#000" stroke-width="1.6" />
<line x1="54.1" y1="290.1" x2="59.2" y2="290.1" stroke="#000" stroke-width="1.6" />
<line x1="49.5" y1="284.1" x2="59.2" y2="284.1" stroke="#000" stroke-width="1.6" />
<text x="45.3" y="289.1" font-size="14.5" text-anchor="end" font-weight="normal" >30</text>
<text transform="translate(13.6,359.05) rotate(-90)" font-size="18.5" text-anchor="middle">R-time (min)</text>
<line x1="59.2" y1="434" x2="80" y2="434" stroke="#000" stroke-width="1.6" />
<line x1="59.2" y1="433.2" x2="59.2" y2="443.3" stroke="#000" stroke-width="1.6" />
<line x1="80" y1="428.5" x2="80" y2="439.8" stroke="#000" stroke-width="1.6" />
<line x1="105" y1="434" x2="238.4" y2="434" stroke="#000" stroke-width="1.6" />
<line x1="105" y1="429" x2="105" y2="439.8" stroke="#000" stroke-width="1.6" />
<line x1="106.04" y1="434" x2="106.04" y2="439.5" stroke="#000" stroke-width="1.6" />
<line x1="108.46" y1="434" x2="108.46" y2="439.5" stroke="#000" stroke-width="1.6" />
<line x1="110.59" y1="434" x2="110.59" y2="439.5" stroke="#000" stroke-width="1.6" />
<line x1="112.5" y1="434" x2="112.5" y2="443.5" stroke="#000" stroke-width="1.6" />
<line x1="125.05" y1="434" x2="125.05" y2="439.5" stroke="#000" stroke-width="1.6" />
<line x1="132.4" y1="434" x2="132.4" y2="439.5" stroke="#000" stroke-width="1.6" />
<line x1="137.61" y1="434" x2="137.61" y2="439.5" stroke="#000" stroke-width="1.6" />
<line x1="141.65" y1="434" x2="141.65" y2="439.5" stroke="#000" stroke-width="1.6" />
<line x1="144.95" y1="434" x2="144.95" y2="439.5" stroke="#000" stroke-width="1.6" />
<line x1="147.74" y1="434" x2="147.74" y2="439.5" stroke="#000" stroke-width="1.6" />
<line x1="150.16" y1="434" x2="150.16" y2="439.5" stroke="#000" stroke-width="1.6" />
<line x1="152.29" y1="434" x2="152.29" y2="439.5" stroke="#000" stroke-width="1.6" />
<line x1="154.2" y1="434" x2="154.2" y2="443.5" stroke="#000" stroke-width="1.6" />
<line x1="166.75" y1="434" x2="166.75" y2="439.5" stroke="#000" stroke-width="1.6" />
<line x1="174.1" y1="434" x2="174.1" y2="439.5" stroke="#000" stroke-width="1.6" />
<line x1="179.31" y1="434" x2="179.31" y2="439.5" stroke="#000" stroke-width="1.6" />
<line x1="183.35" y1="434" x2="183.35" y2="439.5" stroke="#000" stroke-width="1.6" />
<line x1="186.65" y1="434" x2="186.65" y2="439.5" stroke="#000" stroke-width="1.6" />
<line x1="189.44" y1="434" x2="189.44" y2="439.5" stroke="#000" stroke-width="1.6" />
<line x1="191.86" y1="434" x2="191.86" y2="439.5" stroke="#000" stroke-width="1.6" />
<line x1="193.99" y1="434" x2="193.99" y2="439.5" stroke="#000" stroke-width="1.6" />
<line x1="195.9" y1="434" x2="195.9" y2="443.5" stroke="#000" stroke-width="1.6" />
<line x1="208.45" y1="434" x2="208.45" y2="439.5" stroke="#000" stroke-width="1.6" />
<line x1="215.8" y1="434" x2="215.8" y2="439.5" stroke="#000" stroke-width="1.6" />
<line x1="221.01" y1="434" x2="221.01" y2="439.5" stroke="#000" stroke-width="1.6" />
<line x1="225.05" y1="434" x2="225.05" y2="439.5" stroke="#000" stroke-width="1.6" />
<line x1="228.35" y1="434" x2="228.35" y2="439.5" stroke="#000" stroke-width="1.6" />
<line x1="231.14" y1="434" x2="231.14" y2="439.5" stroke="#000" stroke-width="1.6" />
<line x1="233.56" y1="434" x2="233.56" y2="439.5" stroke="#000" stroke-width="1.6" />
<line x1="235.69" y1="434" x2="235.69" y2="439.5" stroke="#000" stroke-width="1.6" />
<line x1="237.6" y1="434" x2="237.6" y2="443.5" stroke="#000" stroke-width="1.6" />
<line x1="59.2" y1="453.2" x2="59.2" y2="604" stroke="#000" stroke-width="1.6" />
<line x1="49.5" y1="604" x2="59.2" y2="604" stroke="#000" stroke-width="1.6" />
<text x="45.3" y="609" font-size="14.5" text-anchor="end" font-weight="normal" >5</text>
<line x1="54.1" y1="594" x2="59.2" y2="594" stroke="#000" stroke-width="1.6" />
<line x1="54.1" y1="584" x2="59.2" y2="584" stroke="#000" stroke-width="1.6" />
<line x1="54.1" y1="574" x2="59.2" y2="574" stroke="#000" stroke-width="1.6" />
<line x1="54.1" y1="564" x2="59.2" y2="564" stroke="#000" stroke-width="1.6" />
<line x1="49.5" y1="554" x2="59.2" y2="554" stroke="#000" stroke-width="1.6" />
<text x="45.3" y="559" font-size="14.5" text-anchor="end" font-weight="normal" >10</text>
<line x1="54.1" y1="544" x2="59.2" y2="544" stroke="#000" stroke-width="1.6" />
<line x1="54.1" y1="534" x2="59.2" y2="534" stroke="#000" stroke-width="1.6" />
<line x1="54.1" y1="524" x2="59.2" y2="524" stroke="#000" stroke-width="1.6" />
<line x1="54.1" y1="514" x2="59.2" y2="514" stroke="#000" stroke-width="1.6" />
<line x1="49.5" y1="504" x2="59.2" y2="504" stroke="#000" stroke-width="1.6" />
<text x="45.3" y="509" font-size="14.5" text-anchor="end" font-weight="normal" >15</text>
<line x1="54.1" y1="494" x2="59.2" y2="494" stroke="#000" stroke-width="1.6" />
<line x1="54.1" y1="484" x2="59.2" y2="484" stroke="#000" stroke-width="1.6" />
<line x1="54.1" y1="474" x2="59.2" y2="474" stroke="#000" stroke-width="1.6" />
<line x1="54.1" y1="464" x2="59.2" y2="464" stroke="#000" stroke-width="1.6" />
<line x1="49.5" y1="454" x2="59.2" y2="454" stroke="#000" stroke-width="1.6" />
<text x="45.3" y="459" font-size="14.5" text-anchor="end" font-weight="normal" >20</text>
<text transform="translate(13.6,529) rotate(-90)" font-size="18.5" text-anchor="middle">MTG (x100 mm/s)</text>
<line x1="59.2" y1="604" x2="80" y2="604" stroke="#000" stroke-width="1.6" />
<line x1="59.2" y1="603.2" x2="59.2" y2="613.3" stroke="#000" stroke-width="1.6" />
<line x1="80" y1="598.5" x2="80" y2="609.8" stroke="#000" stroke-width="1.6" />
<line x1="105" y1="604" x2="238.4" y2="604" stroke="#000" stroke-width="1.6" />
<line x1="105" y1="599" x2="105" y2="609.8" stroke="#000" stroke-width="1.6" />
<line x1="106.04" y1="604" x2="106.04" y2="609.5" stroke="#000" stroke-width="1.6" />
<line x1="108.46" y1="604" x2="108.46" y2="609.5" stroke="#000" stroke-width="1.6" />
<line x1="110.59" y1="604" x2="110.59" y2="609.5" stroke="#000" stroke-width="1.6" />
<line x1="112.5" y1="604" x2="112.5" y2="613.5" stroke="#000" stroke-width="1.6" />
<line x1="125.05" y1="604" x2="125.05" y2="609.5" stroke="#000" stroke-width="1.6" />
<line x1="132.4" y1="604" x2="132.4" y2="609.5" stroke="#000" stroke-width="1.6" />
<line x1="137.61" y1="604" x2="137.61" y2="609.5" stroke="#000" stroke-width="1.6" />
<line x1="141.65" y1="604" x2="141.65" y2="609.5" stroke="#000" stroke-width="1.6" />
<line x1="144.95" y1="604" x2="144.95" y2="609.5" stroke="#000" stroke-width="1.6" />
<line x1="147.74" y1="604" x2="147.74" y2="609.5" stroke="#000" stroke-width="1.6" />
<line x1="150.16" y1="604" x2="150.16" y2="609.5" stroke="#000" stroke-width="1.6" />
<line x1="152.29" y1="604" x2="152.29" y2="609.5" stroke="#000" stroke-width="1.6" />
<line x1="154.2" y1="604" x2="154.2" y2="613.5" stroke="#000" stroke-width="1.6" />
<line x1="166.75" y1="604" x2="166.75" y2="609.5" stroke="#000" stroke-width="1.6" />
<line x1="174.1" y1="604" x2="174.1" y2="609.5" stroke="#000" stroke-width="1.6" />
<line x1="179.31" y1="604" x2="179.31" y2="609.5" stroke="#000" stroke-width="1.6" />
<line x1="183.35" y1="604" x2="183.35" y2="609.5" stroke="#000" stroke-width="1.6" />
<line x1="186.65" y1="604" x2="186.65" y2="609.5" stroke="#000" stroke-width="1.6" />
<line x1="189.44" y1="604" x2="189.44" y2="609.5" stroke="#000" stroke-width="1.6" />
<line x1="191.86" y1="604" x2="191.86" y2="609.5" stroke="#000" stroke-width="1.6" />
<line x1="193.99" y1="604" x2="193.99" y2="609.5" stroke="#000" stroke-width="1.6" />
<line x1="195.9" y1="604" x2="195.9" y2="613.5" stroke="#000" stroke-width="1.6" />
<line x1="208.45" y1="604" x2="208.45" y2="609.5" stroke="#000" stroke-width="1.6" />
<line x1="215.8" y1="604" x2="215.8" y2="609.5" stroke="#000" stroke-width="1.6" />
<line x1="221.01" y1="604" x2="221.01" y2="609.5" stroke="#000" stroke-width="1.6" />
<line x1="225.05" y1="604" x2="225.05" y2="609.5" stroke="#000" stroke-width="1.6" />
<line x1="228.35" y1="604" x2="228.35" y2="609.5" stroke="#000" stroke-width="1.6" />
<line x1="231.14" y1="604" x2="231.14" y2="609.5" stroke="#000" stroke-width="1.6" />
<line x1="233.56" y1="604" x2="233.56" y2="609.5" stroke="#000" stroke-width="1.6" />
<line x1="235.69" y1="604" x2="235.69" y2="609.5" stroke="#000" stroke-width="1.6" />
<line x1="237.6" y1="604" x2="237.6" y2="613.5" stroke="#000" stroke-width="1.6" />
<text x="59.2" y="631" font-size="14.5" text-anchor="middle" font-weight="normal" >0</text>
<text x="112.5" y="631" font-size="14.5" text-anchor="middle" font-weight="normal" >0.1</text>
<text x="154.2" y="631" font-size="14.5" text-anchor="middle" font-weight="normal" >1</text>
<text x="195.9" y="631" font-size="14.5" text-anchor="middle" font-weight="normal" >10</text>
<text x="237.6" y="631" font-size="14.5" text-anchor="middle" font-weight="normal" >100</text>
<text x="148.4" y="651.5" font-size="18.5" text-anchor="middle" font-weight="normal" >FIX (nM)</text>
<line x1="58.6" y1="401.8" x2="238.9" y2="401.8" stroke="#a0a0a0" stroke-width="1.5" stroke-dasharray="5.95 2.356"/>
<line x1="59.4" y1="414.03" x2="238.9" y2="414.03" stroke="#999" stroke-width="1.5" />
<line x1="58.6" y1="426.33" x2="238.9" y2="426.33" stroke="#a0a0a0" stroke-width="1.5" stroke-dasharray="5.95 2.356"/>
<line x1="58.6" y1="489.5" x2="238.9" y2="489.5" stroke="#a0a0a0" stroke-width="1.5" stroke-dasharray="5.95 2.356"/>
<line x1="59.4" y1="526.2" x2="238.9" y2="526.2" stroke="#999" stroke-width="1.5" />
<line x1="58.6" y1="563.1" x2="238.9" y2="563.1" stroke="#a0a0a0" stroke-width="1.5" stroke-dasharray="5.95 2.356"/>
<polyline fill="none" stroke="#000" stroke-width="1.6" points="107.8,348.76 128.4,370.24 142.8,375.44 161.6,370.84 178.7,381.04 197.2,397.62 214.7,400.42 232.8,417.01"/>
<polyline fill="none" stroke="#000" stroke-width="1.6" points="107.8,310.88 128.4,324.97 142.8,367.44 161.6,376.34 178.7,389.03 197.2,402.12 214.7,406.02 232.8,418.01"/>
<circle cx="107.8" cy="348.76" r="5.2"/>
<circle cx="128.4" cy="370.24" r="5.2"/>
<circle cx="142.8" cy="375.44" r="5.2"/>
<circle cx="161.6" cy="370.84" r="5.2"/>
<circle cx="178.7" cy="381.04" r="5.2"/>
<circle cx="197.2" cy="397.62" r="5.2"/>
<circle cx="214.7" cy="400.42" r="5.2"/>
<circle cx="232.8" cy="417.01" r="5.2"/>
<rect x="102.5" y="305.58" width="10.6" height="10.6"/>
<rect x="123.1" y="319.67" width="10.6" height="10.6"/>
<rect x="137.5" y="362.14" width="10.6" height="10.6"/>
<rect x="156.3" y="371.04" width="10.6" height="10.6"/>
<rect x="173.4" y="383.73" width="10.6" height="10.6"/>
<rect x="191.9" y="396.82" width="10.6" height="10.6"/>
<rect x="209.4" y="400.72" width="10.6" height="10.6"/>
<rect x="227.5" y="412.71" width="10.6" height="10.6"/>
<rect x="54.1" y="311.28" width="10.6" height="10.6"/>
<polyline fill="none" stroke="#000" stroke-width="1.6" points="107.8,579 128.4,574.4 142.8,585.9 161.6,581 178.7,555.5 197.2,549.1 214.7,540.6 232.8,521.4"/>
<polyline fill="none" stroke="#000" stroke-width="1.6" points="107.8,587.1 128.4,581 142.8,576 161.6,569.5 178.7,562 197.2,545.2 214.7,544.5 232.8,525.6"/>
<circle cx="107.8" cy="579" r="5.2"/>
<circle cx="128.4" cy="574.4" r="5.2"/>
<circle cx="142.8" cy="585.9" r="5.2"/>
<circle cx="161.6" cy="581" r="5.2"/>
<circle cx="178.7" cy="555.5" r="5.2"/>
<circle cx="197.2" cy="549.1" r="5.2"/>
<circle cx="214.7" cy="540.6" r="5.2"/>
<circle cx="232.8" cy="521.4" r="5.2"/>
<rect x="102.5" y="581.8" width="10.6" height="10.6"/>
<rect x="123.1" y="575.7" width="10.6" height="10.6"/>
<rect x="137.5" y="570.7" width="10.6" height="10.6"/>
<rect x="156.3" y="564.2" width="10.6" height="10.6"/>
<rect x="173.4" y="556.7" width="10.6" height="10.6"/>
<rect x="191.9" y="539.9" width="10.6" height="10.6"/>
<rect x="209.4" y="539.2" width="10.6" height="10.6"/>
<rect x="227.5" y="520.3" width="10.6" height="10.6"/>
<rect x="54.1" y="585.2" width="10.6" height="10.6"/>
<line x1="175.6" y1="277" x2="199.4" y2="277" stroke="#000" stroke-width="1.6" />
<circle cx="187.4" cy="277" r="5.3"/>
<text x="204.5" y="282.2" font-size="14.6" text-anchor="start" font-weight="normal" >N9-GP</text>
<line x1="175.6" y1="295.6" x2="199.4" y2="295.6" stroke="#000" stroke-width="1.6" />
<rect x="182.1" y="290.4" width="10.6" height="10.6"/>
<text x="204.4" y="300.8" font-size="14.6" text-anchor="start" font-weight="normal" >rFIX</text>
<text x="270.9" y="278.8" font-size="25.5" text-anchor="start" font-weight="bold" >D</text>
<line x1="330" y1="283.3" x2="330" y2="434" stroke="#000" stroke-width="1.6" />
<line x1="320.3" y1="434" x2="330" y2="434" stroke="#000" stroke-width="1.6" />
<text x="316.1" y="439" font-size="14.5" text-anchor="end" font-weight="normal" >5</text>
<line x1="324.9" y1="424.01" x2="330" y2="424.01" stroke="#000" stroke-width="1.6" />
<line x1="324.9" y1="414.01" x2="330" y2="414.01" stroke="#000" stroke-width="1.6" />
<line x1="324.9" y1="404.02" x2="330" y2="404.02" stroke="#000" stroke-width="1.6" />
<line x1="324.9" y1="394.03" x2="330" y2="394.03" stroke="#000" stroke-width="1.6" />
<line x1="320.3" y1="384.03" x2="330" y2="384.03" stroke="#000" stroke-width="1.6" />
<text x="316.1" y="389.03" font-size="14.5" text-anchor="end" font-weight="normal" >10</text>
<line x1="324.9" y1="374.04" x2="330" y2="374.04" stroke="#000" stroke-width="1.6" />
<line x1="324.9" y1="364.05" x2="330" y2="364.05" stroke="#000" stroke-width="1.6" />
<line x1="324.9" y1="354.05" x2="330" y2="354.05" stroke="#000" stroke-width="1.6" />
<line x1="324.9" y1="344.06" x2="330" y2="344.06" stroke="#000" stroke-width="1.6" />
<line x1="320.3" y1="334.07" x2="330" y2="334.07" stroke="#000" stroke-width="1.6" />
<text x="316.1" y="339.07" font-size="14.5" text-anchor="end" font-weight="normal" >15</text>
<line x1="324.9" y1="324.07" x2="330" y2="324.07" stroke="#000" stroke-width="1.6" />
<line x1="324.9" y1="314.08" x2="330" y2="314.08" stroke="#000" stroke-width="1.6" />
<line x1="324.9" y1="304.09" x2="330" y2="304.09" stroke="#000" stroke-width="1.6" />
<line x1="324.9" y1="294.09" x2="330" y2="294.09" stroke="#000" stroke-width="1.6" />
<line x1="320.3" y1="284.1" x2="330" y2="284.1" stroke="#000" stroke-width="1.6" />
<text x="316.1" y="289.1" font-size="14.5" text-anchor="end" font-weight="normal" >20</text>
<text transform="translate(284.4,359.05) rotate(-90)" font-size="18.5" text-anchor="middle">R-time (min)</text>
<line x1="330" y1="434" x2="350.8" y2="434" stroke="#000" stroke-width="1.6" />
<line x1="330" y1="433.2" x2="330" y2="443.3" stroke="#000" stroke-width="1.6" />
<line x1="350.8" y1="428.5" x2="350.8" y2="439.8" stroke="#000" stroke-width="1.6" />
<line x1="375.8" y1="434" x2="509.2" y2="434" stroke="#000" stroke-width="1.6" />
<line x1="375.8" y1="429" x2="375.8" y2="439.8" stroke="#000" stroke-width="1.6" />
<line x1="376.84" y1="434" x2="376.84" y2="439.5" stroke="#000" stroke-width="1.6" />
<line x1="379.26" y1="434" x2="379.26" y2="439.5" stroke="#000" stroke-width="1.6" />
<line x1="381.39" y1="434" x2="381.39" y2="439.5" stroke="#000" stroke-width="1.6" />
<line x1="383.3" y1="434" x2="383.3" y2="443.5" stroke="#000" stroke-width="1.6" />
<line x1="395.85" y1="434" x2="395.85" y2="439.5" stroke="#000" stroke-width="1.6" />
<line x1="403.2" y1="434" x2="403.2" y2="439.5" stroke="#000" stroke-width="1.6" />
<line x1="408.41" y1="434" x2="408.41" y2="439.5" stroke="#000" stroke-width="1.6" />
<line x1="412.45" y1="434" x2="412.45" y2="439.5" stroke="#000" stroke-width="1.6" />
<line x1="415.75" y1="434" x2="415.75" y2="439.5" stroke="#000" stroke-width="1.6" />
<line x1="418.54" y1="434" x2="418.54" y2="439.5" stroke="#000" stroke-width="1.6" />
<line x1="420.96" y1="434" x2="420.96" y2="439.5" stroke="#000" stroke-width="1.6" />
<line x1="423.09" y1="434" x2="423.09" y2="439.5" stroke="#000" stroke-width="1.6" />
<line x1="425" y1="434" x2="425" y2="443.5" stroke="#000" stroke-width="1.6" />
<line x1="437.55" y1="434" x2="437.55" y2="439.5" stroke="#000" stroke-width="1.6" />
<line x1="444.9" y1="434" x2="444.9" y2="439.5" stroke="#000" stroke-width="1.6" />
<line x1="450.11" y1="434" x2="450.11" y2="439.5" stroke="#000" stroke-width="1.6" />
<line x1="454.15" y1="434" x2="454.15" y2="439.5" stroke="#000" stroke-width="1.6" />
<line x1="457.45" y1="434" x2="457.45" y2="439.5" stroke="#000" stroke-width="1.6" />
<line x1="460.24" y1="434" x2="460.24" y2="439.5" stroke="#000" stroke-width="1.6" />
<line x1="462.66" y1="434" x2="462.66" y2="439.5" stroke="#000" stroke-width="1.6" />
<line x1="464.79" y1="434" x2="464.79" y2="439.5" stroke="#000" stroke-width="1.6" />
<line x1="466.7" y1="434" x2="466.7" y2="443.5" stroke="#000" stroke-width="1.6" />
<line x1="479.25" y1="434" x2="479.25" y2="439.5" stroke="#000" stroke-width="1.6" />
<line x1="486.6" y1="434" x2="486.6" y2="439.5" stroke="#000" stroke-width="1.6" />
<line x1="491.81" y1="434" x2="491.81" y2="439.5" stroke="#000" stroke-width="1.6" />
<line x1="495.85" y1="434" x2="495.85" y2="439.5" stroke="#000" stroke-width="1.6" />
<line x1="499.15" y1="434" x2="499.15" y2="439.5" stroke="#000" stroke-width="1.6" />
<line x1="501.94" y1="434" x2="501.94" y2="439.5" stroke="#000" stroke-width="1.6" />
<line x1="504.36" y1="434" x2="504.36" y2="439.5" stroke="#000" stroke-width="1.6" />
<line x1="506.49" y1="434" x2="506.49" y2="439.5" stroke="#000" stroke-width="1.6" />
<line x1="508.4" y1="434" x2="508.4" y2="443.5" stroke="#000" stroke-width="1.6" />
<line x1="330" y1="453.2" x2="330" y2="604" stroke="#000" stroke-width="1.6" />
<line x1="320.3" y1="604" x2="330" y2="604" stroke="#000" stroke-width="1.6" />
<text x="316.1" y="609" font-size="14.5" text-anchor="end" font-weight="normal" >5</text>
<line x1="324.9" y1="594" x2="330" y2="594" stroke="#000" stroke-width="1.6" />
<line x1="324.9" y1="584" x2="330" y2="584" stroke="#000" stroke-width="1.6" />
<line x1="324.9" y1="574" x2="330" y2="574" stroke="#000" stroke-width="1.6" />
<line x1="324.9" y1="564" x2="330" y2="564" stroke="#000" stroke-width="1.6" />
<line x1="320.3" y1="554" x2="330" y2="554" stroke="#000" stroke-width="1.6" />
<text x="316.1" y="559" font-size="14.5" text-anchor="end" font-weight="normal" >10</text>
<line x1="324.9" y1="544" x2="330" y2="544" stroke="#000" stroke-width="1.6" />
<line x1="324.9" y1="534" x2="330" y2="534" stroke="#000" stroke-width="1.6" />
<line x1="324.9" y1="524" x2="330" y2="524" stroke="#000" stroke-width="1.6" />
<line x1="324.9" y1="514" x2="330" y2="514" stroke="#000" stroke-width="1.6" />
<line x1="320.3" y1="504" x2="330" y2="504" stroke="#000" stroke-width="1.6" />
<text x="316.1" y="509" font-size="14.5" text-anchor="end" font-weight="normal" >15</text>
<line x1="324.9" y1="494" x2="330" y2="494" stroke="#000" stroke-width="1.6" />
<line x1="324.9" y1="484" x2="330" y2="484" stroke="#000" stroke-width="1.6" />
<line x1="324.9" y1="474" x2="330" y2="474" stroke="#000" stroke-width="1.6" />
<line x1="324.9" y1="464" x2="330" y2="464" stroke="#000" stroke-width="1.6" />
<line x1="320.3" y1="454" x2="330" y2="454" stroke="#000" stroke-width="1.6" />
<text x="316.1" y="459" font-size="14.5" text-anchor="end" font-weight="normal" >20</text>
<text transform="translate(284.4,529) rotate(-90)" font-size="18.5" text-anchor="middle">MTG (x100 mm/s)</text>
<line x1="330" y1="604" x2="350.8" y2="604" stroke="#000" stroke-width="1.6" />
<line x1="330" y1="603.2" x2="330" y2="613.3" stroke="#000" stroke-width="1.6" />
<line x1="350.8" y1="598.5" x2="350.8" y2="609.8" stroke="#000" stroke-width="1.6" />
<line x1="375.8" y1="604" x2="509.2" y2="604" stroke="#000" stroke-width="1.6" />
<line x1="375.8" y1="599" x2="375.8" y2="609.8" stroke="#000" stroke-width="1.6" />
<line x1="376.84" y1="604" x2="376.84" y2="609.5" stroke="#000" stroke-width="1.6" />
<line x1="379.26" y1="604" x2="379.26" y2="609.5" stroke="#000" stroke-width="1.6" />
<line x1="381.39" y1="604" x2="381.39" y2="609.5" stroke="#000" stroke-width="1.6" />
<line x1="383.3" y1="604" x2="383.3" y2="613.5" stroke="#000" stroke-width="1.6" />
<line x1="395.85" y1="604" x2="395.85" y2="609.5" stroke="#000" stroke-width="1.6" />
<line x1="403.2" y1="604" x2="403.2" y2="609.5" stroke="#000" stroke-width="1.6" />
<line x1="408.41" y1="604" x2="408.41" y2="609.5" stroke="#000" stroke-width="1.6" />
<line x1="412.45" y1="604" x2="412.45" y2="609.5" stroke="#000" stroke-width="1.6" />
<line x1="415.75" y1="604" x2="415.75" y2="609.5" stroke="#000" stroke-width="1.6" />
<line x1="418.54" y1="604" x2="418.54" y2="609.5" stroke="#000" stroke-width="1.6" />
<line x1="420.96" y1="604" x2="420.96" y2="609.5" stroke="#000" stroke-width="1.6" />
<line x1="423.09" y1="604" x2="423.09" y2="609.5" stroke="#000" stroke-width="1.6" />
<line x1="425" y1="604" x2="425" y2="613.5" stroke="#000" stroke-width="1.6" />
<line x1="437.55" y1="604" x2="437.55" y2="609.5" stroke="#000" stroke-width="1.6" />
<line x1="444.9" y1="604" x2="444.9" y2="609.5" stroke="#000" stroke-width="1.6" />
<line x1="450.11" y1="604" x2="450.11" y2="609.5" stroke="#000" stroke-width="1.6" />
<line x1="454.15" y1="604" x2="454.15" y2="609.5" stroke="#000" stroke-width="1.6" />
<line x1="457.45" y1="604" x2="457.45" y2="609.5" stroke="#000" stroke-width="1.6" />
<line x1="460.24" y1="604" x2="460.24" y2="609.5" stroke="#000" stroke-width="1.6" />
<line x1="462.66" y1="604" x2="462.66" y2="609.5" stroke="#000" stroke-width="1.6" />
<line x1="464.79" y1="604" x2="464.79" y2="609.5" stroke="#000" stroke-width="1.6" />
<line x1="466.7" y1="604" x2="466.7" y2="613.5" stroke="#000" stroke-width="1.6" />
<line x1="479.25" y1="604" x2="479.25" y2="609.5" stroke="#000" stroke-width="1.6" />
<line x1="486.6" y1="604" x2="486.6" y2="609.5" stroke="#000" stroke-width="1.6" />
<line x1="491.81" y1="604" x2="491.81" y2="609.5" stroke="#000" stroke-width="1.6" />
<line x1="495.85" y1="604" x2="495.85" y2="609.5" stroke="#000" stroke-width="1.6" />
<line x1="499.15" y1="604" x2="499.15" y2="609.5" stroke="#000" stroke-width="1.6" />
<line x1="501.94" y1="604" x2="501.94" y2="609.5" stroke="#000" stroke-width="1.6" />
<line x1="504.36" y1="604" x2="504.36" y2="609.5" stroke="#000" stroke-width="1.6" />
<line x1="506.49" y1="604" x2="506.49" y2="609.5" stroke="#000" stroke-width="1.6" />
<line x1="508.4" y1="604" x2="508.4" y2="613.5" stroke="#000" stroke-width="1.6" />
<text x="330" y="631" font-size="14.5" text-anchor="middle" font-weight="normal" >0</text>
<text x="383.3" y="631" font-size="14.5" text-anchor="middle" font-weight="normal" >0.1</text>
<text x="425" y="631" font-size="14.5" text-anchor="middle" font-weight="normal" >1</text>
<text x="466.7" y="631" font-size="14.5" text-anchor="middle" font-weight="normal" >10</text>
<text x="508.4" y="631" font-size="14.5" text-anchor="middle" font-weight="normal" >100</text>
<text x="419.2" y="651.5" font-size="18.5" text-anchor="middle" font-weight="normal" >FIX (nM)</text>
<line x1="329.4" y1="380.34" x2="509.7" y2="380.34" stroke="#a0a0a0" stroke-width="1.5" stroke-dasharray="5.95 2.356"/>
<line x1="330.2" y1="400.72" x2="509.7" y2="400.72" stroke="#999" stroke-width="1.5" />
<line x1="329.4" y1="421.21" x2="509.7" y2="421.21" stroke="#a0a0a0" stroke-width="1.5" stroke-dasharray="5.95 2.356"/>
<line x1="329.4" y1="489.5" x2="509.7" y2="489.5" stroke="#a0a0a0" stroke-width="1.5" stroke-dasharray="5.95 2.356"/>
<line x1="330.2" y1="526.2" x2="509.7" y2="526.2" stroke="#999" stroke-width="1.5" />
<line x1="329.4" y1="563.1" x2="509.7" y2="563.1" stroke="#a0a0a0" stroke-width="1.5" stroke-dasharray="5.95 2.356"/>
<polyline fill="none" stroke="#000" stroke-width="1.6" points="378.6,354.95 399.2,361.75 413.6,350.66 432.4,358.35 449.5,343.06 468,389.13 485.5,389.13 503.6,398.32"/>
<polyline fill="none" stroke="#000" stroke-width="1.6" points="378.6,358.35 399.2,347.56 413.6,370.24 432.4,368.24 449.5,370.54 468,381.04 485.5,384.73 503.6,402.52"/>
<circle cx="378.6" cy="354.95" r="5.2"/>
<circle cx="399.2" cy="361.75" r="5.2"/>
<circle cx="413.6" cy="350.66" r="5.2"/>
<circle cx="432.4" cy="358.35" r="5.2"/>
<circle cx="449.5" cy="343.06" r="5.2"/>
<circle cx="468" cy="389.13" r="5.2"/>
<circle cx="485.5" cy="389.13" r="5.2"/>
<circle cx="503.6" cy="398.32" r="5.2"/>
<rect x="373.3" y="353.05" width="10.6" height="10.6"/>
<rect x="393.9" y="342.26" width="10.6" height="10.6"/>
<rect x="408.3" y="364.94" width="10.6" height="10.6"/>
<rect x="427.1" y="362.94" width="10.6" height="10.6"/>
<rect x="444.2" y="365.24" width="10.6" height="10.6"/>
<rect x="462.7" y="375.74" width="10.6" height="10.6"/>
<rect x="480.2" y="379.43" width="10.6" height="10.6"/>
<rect x="498.3" y="397.22" width="10.6" height="10.6"/>
<rect x="324.9" y="350.05" width="10.6" height="10.6"/>
<polyline fill="none" stroke="#000" stroke-width="1.6" points="378.6,589.8 399.2,573.6 413.6,594.5 432.4,588.6 449.5,586 468,567.8 485.5,577.1 503.6,565.2"/>
<polyline fill="none" stroke="#000" stroke-width="1.6" points="378.6,589.8 399.2,586.2 413.6,586 432.4,587 449.5,586.1 468,574.8 485.5,574.4 503.6,565.2"/>
<circle cx="378.6" cy="589.8" r="5.2"/>
<circle cx="399.2" cy="573.6" r="5.2"/>
<circle cx="413.6" cy="594.5" r="5.2"/>
<circle cx="432.4" cy="588.6" r="5.2"/>
<circle cx="449.5" cy="586" r="5.2"/>
<circle cx="468" cy="567.8" r="5.2"/>
<circle cx="485.5" cy="577.1" r="5.2"/>
<circle cx="503.6" cy="565.2" r="5.2"/>
<rect x="373.3" y="584.5" width="10.6" height="10.6"/>
<rect x="393.9" y="580.9" width="10.6" height="10.6"/>
<rect x="408.3" y="580.7" width="10.6" height="10.6"/>
<rect x="427.1" y="581.7" width="10.6" height="10.6"/>
<rect x="444.2" y="580.8" width="10.6" height="10.6"/>
<rect x="462.7" y="569.5" width="10.6" height="10.6"/>
<rect x="480.2" y="569.1" width="10.6" height="10.6"/>
<rect x="498.3" y="559.9" width="10.6" height="10.6"/>
<rect x="324.9" y="578.1" width="10.6" height="10.6"/>
<line x1="446.4" y1="277" x2="470.2" y2="277" stroke="#000" stroke-width="1.6" />
<circle cx="458.2" cy="277" r="5.3"/>
<text x="475.3" y="282.2" font-size="14.6" text-anchor="start" font-weight="normal" >N9-GP</text>
<line x1="446.4" y1="295.6" x2="470.2" y2="295.6" stroke="#000" stroke-width="1.6" />
<rect x="452.9" y="290.4" width="10.6" height="10.6"/>
<text x="475.2" y="300.8" font-size="14.6" text-anchor="start" font-weight="normal" >rFIX</text>
</g>
</svg>
</body></html>
